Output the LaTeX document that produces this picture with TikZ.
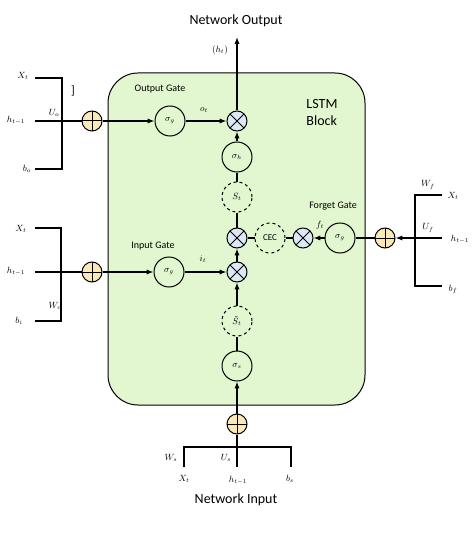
\documentclass[tikz,border=0pt]{standalone}
\usepackage{amsmath}
\usepackage{fontspec}
\setmainfont{Carlito}
\usetikzlibrary{arrows.meta}
\definecolor{blockgreen}{RGB}{226,246,208}
\definecolor{sumyellow}{RGB}{250,232,182}
\definecolor{multblue}{RGB}{220,232,246}
\tikzset{
  flowarrow/.style={-{Latex[length=2.4mm,width=1.8mm]}, line width=1.2pt},
  wire/.style={line width=1.2pt},
  bracket/.style={line width=1.6pt},
  blockbox/.style={draw, line width=1pt, fill=blockgreen, rounded corners=30pt, minimum width=257pt, minimum height=332pt},
  gatecircle/.style={draw, line width=1pt, circle, minimum size=30pt, inner sep=0pt, font=\small},
  statecircle/.style={draw, line width=1pt, dashed, circle, minimum size=30pt, inner sep=0pt, font=\small},
  multnode/.style={draw, line width=1pt, circle, fill=multblue, minimum size=20pt, inner sep=0pt,
    path picture={\draw[line width=1pt] (path picture bounding box.north east) -- (path picture bounding box.south west)
      (path picture bounding box.north west) -- (path picture bounding box.south east);}},
  sumnode/.style={draw, line width=1pt, circle, fill=sumyellow, minimum size=20pt, inner sep=0pt,
    path picture={\draw[line width=1pt] (path picture bounding box.north) -- (path picture bounding box.south)
      (path picture bounding box.west) -- (path picture bounding box.east);}},
  varlabel/.style={font=\small, inner sep=1pt},
  gatelabel/.style={font=\fontsize{10}{12}\selectfont},
  titlelabel/.style={font=\fontsize{14}{17}\selectfont}
}

\begin{document}
\begin{tikzpicture}[x=1pt, y=-1pt]
  \useasboundingbox (0,0) rectangle (474,548);
  % LSTM block
  \node[blockbox] (block) at (236.5,239) {};
  \node[titlelabel, align=left] (blocktxt) at (322,113) {LSTM\\Block};
  \node[titlelabel] (netout) at (236,21) {Network Output};
  \node[titlelabel] (netin) at (236,500) {Network Input};

  % central column
  \node[multnode] (outmult) at (237,121) {};
  \node[gatecircle] (sigh) at (237,157) {$\sigma_h$};
  \node[statecircle] (state) at (237,197) {$S_t$};
  \node[multnode] (midmult) at (237,238) {};
  \node[multnode] (inmult) at (237,272) {};
  \node[statecircle] (cand) at (237,321) {$\tilde{S}_t$};
  \node[gatecircle] (sigs) at (237,366) {$\sigma_s$};
  \node[sumnode] (ssum) at (237,424) {};
  \coordinate (outtop) at (237,37);
  \node[varlabel] (htlbl) at (220,50) {$(h_t)$};

  % output gate
  \node[gatelabel] (outgate) at (160,89) {Output Gate};
  \node[gatecircle] (osig) at (170,121) {$\sigma_g$};
  \node[sumnode] (osum) at (92,121) {};
  \node[varlabel] (otlbl) at (204,110) {$o_t$};

  % input gate
  \node[gatelabel] (ingate) at (153,246) {Input Gate};
  \node[gatecircle] (isig) at (169,272) {$\sigma_g$};
  \node[sumnode] (isum) at (92,272) {};
  \node[varlabel] (itlbl) at (203,259) {$i_t$};

  % forget gate
  \node[gatelabel] (fgate) at (333,206) {Forget Gate};
  \node[statecircle, font=\fontsize{9}{10}\selectfont] (cec) at (270,238) {CEC};
  \node[multnode] (fmult) at (303,238) {};
  \node[gatecircle] (fsig) at (340,238) {$\sigma_g$};
  \node[sumnode] (fsum) at (385,238) {};
  \node[varlabel] (ftlbl) at (320,225) {$f_t$};

  % inputs of the output gate
  \coordinate (oxt) at (35,78);
  \coordinate (oht) at (35,121);
  \coordinate (obo) at (35,169);
  \coordinate (ocor1) at (62,78);
  \coordinate (ocor2) at (62,169);
  \node[varlabel] at (23,76) {$X_t$};
  \node[varlabel] at (16,120) {$h_{t-1}$};
  \node[varlabel] at (27,169) {$b_o$};
  \node[varlabel] at (54,113) {$U_o$};
  \node[font=\fontsize{12}{12}\selectfont] (stray) at (73,91) {]};
  \draw[bracket] (oxt) -- (ocor1) -- (ocor2) -- (obo);
  \draw[wire] (oht) -- (osum);

  % inputs of the input gate
  \coordinate (ixt) at (35,228);
  \coordinate (iht) at (35,272);
  \coordinate (ibi) at (35,321);
  \coordinate (icor1) at (61,228);
  \coordinate (icor2) at (61,321);
  \node[varlabel] at (21,229) {$X_t$};
  \node[varlabel] at (16,271) {$h_{t-1}$};
  \node[varlabel] at (19,321) {$b_i$};
  \node[varlabel] at (55,306) {$W_c$};
  \draw[bracket] (ixt) -- (icor1) -- (icor2) -- (ibi);
  \draw[wire] (iht) -- (isum);

  % inputs of the forget gate
  \coordinate (fxt) at (442,195);
  \coordinate (fht) at (442,238);
  \coordinate (fbf) at (442,286);
  \coordinate (fcor1) at (415,195);
  \coordinate (fcor2) at (415,286);
  \node[varlabel] at (428,185) {$W_f$};
  \node[varlabel] at (453,196) {$X_t$};
  \node[varlabel] at (428,228) {$U_f$};
  \node[varlabel] at (460,239) {$h_{t-1}$};
  \node[varlabel] at (453,289) {$b_f$};
  \draw[bracket] (fxt) -- (fcor1) -- (fcor2) -- (fbf);
  \draw[flowarrow] (fht) -- (fsum);

  % inputs of the cell input
  \coordinate (sxt) at (184,467);
  \coordinate (sht) at (237,467);
  \coordinate (sbs) at (291,467);
  \coordinate (scor1) at (184,447);
  \coordinate (scor2) at (291,447);
  \node[varlabel] at (171,458) {$W_s$};
  \node[varlabel] at (226,458) {$U_s$};
  \node[varlabel] at (184,479) {$X_t$};
  \node[varlabel] at (238,480) {$h_{t-1}$};
  \node[varlabel] at (290,479) {$b_s$};
  \draw[bracket] (sxt) -- (scor1) -- (scor2) -- (sbs);
  \draw[wire] (sht) -- (ssum);

  % connectors
  \draw[flowarrow] (outmult) -- (outtop);
  \draw[flowarrow] (osum) -- (osig);
  \draw[flowarrow] (osig) -- (outmult);
  \draw[flowarrow] (sigh) -- (outmult);
  \draw[wire] (state) -- (sigh);
  \draw[wire] (midmult) -- (state);
  \draw[flowarrow] (inmult) -- (midmult);
  \draw[flowarrow] (cand) -- (inmult);
  \draw[wire] (sigs) -- (cand);
  \draw[flowarrow] (ssum) -- (sigs);
  \draw[flowarrow] (isum) -- (isig);
  \draw[flowarrow] (isig) -- (inmult);
  \draw[wire] (midmult) -- (cec);
  \draw[wire] (cec) -- (fmult);
  \draw[flowarrow] (fsig) -- (fmult);
  \draw[wire] (fsum) -- (fsig);
\end{tikzpicture}
\end{document}
